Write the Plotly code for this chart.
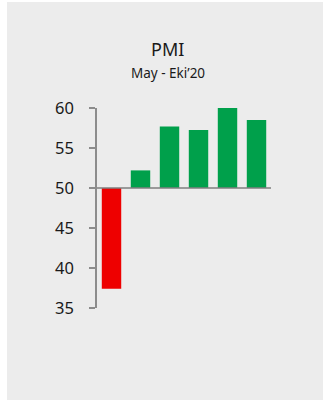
import plotly.graph_objects as go

# PMI readings, May - October 2020 (threshold 50)
months = ["May", "Haz", "Tem", "Ağu", "Eyl", "Eki"]
pmi = [37.4, 52.2, 57.7, 57.25, 60.0, 58.5]
threshold = 50
y_ticks = [35, 40, 45, 50, 55, 60]

colors = ["#ee0000" if v < threshold else "#00a04b" for v in pmi]

W, H = 323, 401
L, R, T, B = 97, 52, 108, 93
pw, ph = W - L - R, H - T - B


def px_x(x):
    return (x - L) / pw


def px_y(y):
    return (H - B - y) / ph


fig = go.Figure(
    go.Bar(
        x=months,
        y=[v - threshold for v in pmi],
        base=threshold,
        marker=dict(color=colors, line=dict(width=0)),
        width=0.67,
        hoverinfo="skip",
    )
)

font = "Noto Sans, Open Sans, sans-serif"

fig.update_layout(
    width=W,
    height=H,
    margin=dict(l=L, r=R, t=T, b=B, pad=0),
    paper_bgcolor="white",
    plot_bgcolor="rgba(0,0,0,0)",
    showlegend=False,
    font=dict(family=font, color="#1a1a1a"),
    xaxis=dict(
        range=[-0.5, 5.5],
        showticklabels=False,
        showgrid=False,
        zeroline=False,
        showline=False,
        ticks="",
    ),
    yaxis=dict(
        range=[35, 60],
        tickvals=y_ticks,
        showgrid=False,
        zeroline=False,
        showline=True,
        linecolor="#8c8c8c",
        linewidth=1.5,
        ticks="outside",
        ticklen=6,
        tickwidth=1.5,
        tickcolor="#8c8c8c",
        ticklabelstandoff=12,
        tickfont=dict(size=16.5, family=font, color="#1a1a1a"),
    ),
    shapes=[
        # grey panel behind the chart
        dict(
            type="rect", xref="paper", yref="paper",
            x0=px_x(7), x1=px_x(323), y0=px_y(400), y1=px_y(2),
            fillcolor="#ececec", line=dict(width=0), layer="below",
        ),
        # baseline at the 50 threshold
        dict(
            type="line", xref="paper", yref="y",
            x0=0, x1=1, y0=threshold, y1=threshold,
            line=dict(color="#7f7f7f", width=1.5), layer="above",
        ),
    ],
    annotations=[
        dict(
            text="PMI", xref="paper", yref="paper",
            x=px_x(167.5), y=px_y(49), xanchor="center", yanchor="middle",
            showarrow=False, font=dict(size=18, family=font, color="#1a1a1a"),
        ),
        dict(
            text="May - Eki’20", xref="paper", yref="paper",
            x=px_x(167.5), y=px_y(73.5), xanchor="center", yanchor="middle",
            showarrow=False, font=dict(size=13.5, family=font, color="#1a1a1a"),
        ),
    ],
)

fig.write_html("out.html")
